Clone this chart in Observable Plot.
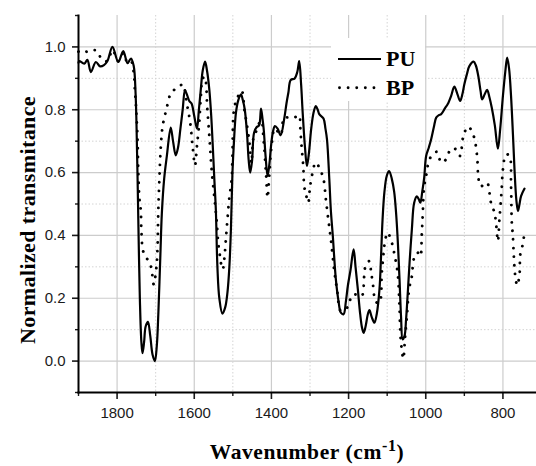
<!DOCTYPE html>
<html>
<head>
<meta charset="utf-8">
<script src="https://cdn.jsdelivr.net/npm/d3@7"></script>
<script src="https://cdn.jsdelivr.net/npm/@observablehq/plot@0.6"></script>
<style>
  html, body { margin: 0; padding: 0; background: #fff; }
  #chart { width: 536px; height: 466px; }
</style>
</head>
<body>
<div id="chart"></div>
<script>
// ---- data ----
const seriesNames = ["PU", "BP"];
const xTitle = "Wavenumber (cm";
const xTitleSup = "-1";
const yTitle = "Normalized transmitance";
const xMajorTicks = [1800, 1600, 1400, 1200, 1000, 800];
const xMinorTicks = [1900, 1700, 1500, 1300, 1100, 900];
const yMajorTicks = [0, 0.2, 0.4, 0.6, 0.8, 1.0];
const yMinorTicks = [-0.1, 0.1, 0.3, 0.5, 0.7, 0.9, 1.1];

const puWave = [1900,1898,1885,1877,1868,1855,1844,1834,1825,1812,1797,1784,1773,1764,1757,1752,1748,1745,1741,1737,1734,1730,1726,1720,1714,1708,1702,1697,1693,1688,1684,1678,1671,1661,1655,1648,1642,1636,1630,1624,1618,1613,1607,1600,1593,1588,1583,1578,1572,1567,1561,1556,1552,1548,1544,1540,1535,1527,1520,1514,1509,1505,1501,1497,1492,1486,1479,1474,1469,1463,1459,1455,1450,1445,1438,1432,1427,1423,1420,1415,1410,1405,1401,1396,1391,1384,1376,1367,1361,1356,1350,1340,1333,1328,1323,1319,1313,1308,1303,1297,1291,1285,1280,1276,1265,1260,1256,1250,1246,1241,1233,1226,1220,1213,1207,1202,1195,1187,1182,1176,1170,1165,1161,1156,1150,1146,1140,1133,1127,1120,1116,1112,1107,1101,1095,1088,1082,1077,1072,1068,1064,1060,1055,1051,1046,1042,1036,1030,1023,1018,1014,1009,1004,999,992,986,979,973,966,960,950,943,934,926,918,911,905,900,893,887,876,870,864,858,854,847,841,835,829,821,813,807,800,794,789,784,779,774,770,765,761,757,753,744];
const puT = [0.95,0.955,0.947,0.959,0.92,0.952,0.938,0.942,0.955,1.0,0.952,0.987,0.948,0.963,0.94,0.85,0.65,0.45,0.2,0.06,0.025,0.06,0.11,0.125,0.08,0.02,0.0,0.05,0.154,0.33,0.47,0.58,0.653,0.743,0.70,0.655,0.68,0.738,0.80,0.862,0.845,0.828,0.82,0.78,0.74,0.80,0.865,0.925,0.953,0.925,0.865,0.78,0.685,0.58,0.48,0.3,0.2,0.151,0.17,0.218,0.3,0.419,0.6,0.7,0.79,0.83,0.849,0.83,0.80,0.72,0.64,0.6,0.64,0.727,0.745,0.75,0.804,0.77,0.738,0.65,0.589,0.63,0.685,0.73,0.748,0.74,0.719,0.77,0.82,0.855,0.895,0.899,0.92,0.955,0.88,0.791,0.68,0.621,0.66,0.738,0.79,0.812,0.80,0.786,0.772,0.74,0.706,0.58,0.48,0.40,0.26,0.19,0.154,0.149,0.19,0.239,0.29,0.356,0.30,0.228,0.15,0.105,0.09,0.11,0.15,0.162,0.14,0.122,0.15,0.228,0.33,0.45,0.54,0.59,0.605,0.58,0.54,0.473,0.37,0.26,0.14,0.069,0.08,0.133,0.23,0.313,0.42,0.504,0.524,0.515,0.504,0.54,0.585,0.653,0.68,0.706,0.745,0.775,0.783,0.786,0.805,0.818,0.845,0.874,0.85,0.828,0.85,0.881,0.915,0.939,0.953,0.94,0.908,0.86,0.833,0.85,0.863,0.84,0.807,0.75,0.676,0.74,0.844,0.92,0.966,0.93,0.844,0.72,0.61,0.51,0.478,0.50,0.525,0.549];

const bpWave = [1900,1890,1880,1870,1860,1850,1840,1825,1812,1797,1784,1773,1764,1757,1754,1750.5,1747,1745,1742,1738.5,1737,1732.5,1723,1714,1709,1705,1698,1695,1693.5,1691,1686.5,1682,1676,1669,1661,1650,1640,1630,1619,1610.5,1604,1598,1593,1587,1583,1578,1573,1566,1560,1555,1546.5,1541.5,1538,1534.5,1531,1526,1522,1518,1514,1509.5,1503,1501,1496.5,1486,1477,1470,1466,1457.5,1452,1445,1436,1427,1420,1414,1410,1405,1400,1391,1376,1367,1355,1341,1328,1325.5,1322,1317.5,1315,1310.5,1304.5,1301,1297.5,1285,1274,1265,1259,1253,1246,1237.5,1230,1220,1210,1200,1192,1180,1166,1159.5,1155,1146,1142,1137.5,1129,1120,1114,1109,1105.5,1099,1088,1082,1073,1068.5,1065,1058,1054,1049,1042.5,1036.5,1030,1021,1014,1010.5,1008,1004,999,995,988,982,971,960,947.5,934.5,921.5,911,902.5,890,876,867,864,858.5,850,841,831,822,818,813,809,805,803,800,792,783,779,777,774.5,772,768.5,763,757,755,748.5,744.5];
const bpT = [0.985,0.99,0.985,0.985,0.99,0.985,0.96,0.955,0.99,0.955,0.98,0.95,0.955,0.92,0.865,0.80,0.706,0.6,0.515,0.478,0.414,0.35,0.327,0.308,0.276,0.244,0.30,0.366,0.462,0.557,0.685,0.748,0.782,0.818,0.852,0.865,0.872,0.881,0.818,0.759,0.68,0.623,0.685,0.759,0.84,0.9,0.905,0.80,0.70,0.61,0.504,0.44,0.377,0.345,0.313,0.292,0.326,0.388,0.451,0.515,0.579,0.653,0.804,0.844,0.860,0.80,0.77,0.70,0.63,0.72,0.738,0.78,0.70,0.595,0.52,0.6,0.68,0.74,0.72,0.775,0.775,0.775,0.782,0.748,0.685,0.621,0.557,0.531,0.504,0.541,0.573,0.632,0.61,0.579,0.515,0.455,0.388,0.292,0.228,0.159,0.165,0.175,0.209,0.212,0.207,0.271,0.308,0.318,0.287,0.25,0.188,0.186,0.281,0.347,0.382,0.409,0.377,0.345,0.281,0.186,0.07,0.008,0.069,0.143,0.234,0.266,0.329,0.345,0.334,0.398,0.462,0.557,0.589,0.621,0.648,0.658,0.666,0.632,0.642,0.676,0.674,0.653,0.717,0.746,0.717,0.653,0.589,0.557,0.56,0.568,0.504,0.473,0.44,0.382,0.451,0.515,0.552,0.61,0.658,0.653,0.557,0.44,0.403,0.34,0.276,0.241,0.276,0.34,0.372,0.407];

const pu = puWave.map((w, i) => ({w, t: puT[i]}));
const bp = bpWave.map((w, i) => ({w, t: bpT[i]}));

const W = 536, H = 466;
const mL = 78, mR = 0, mT = 15, mB = 74;
const dotDash = "0.01 8.6";

const chart = Plot.plot({
  width: W, height: H,
  marginLeft: mL, marginRight: mR, marginTop: mT, marginBottom: mB,
  style: {fontFamily: "'Liberation Sans', Arial, sans-serif", fontSize: "15px", color: "#1a1a1a", background: "#fff"},
  x: {domain: [1900, 713]},
  y: {domain: [-0.1, 1.1]},
  marks: [
    Plot.ruleY(yMinorTicks.filter(d => d > -0.1 && d < 1.1), {stroke: "#d4d4d4", strokeDasharray: "1.5,2", strokeOpacity: 1}),
    Plot.ruleY(yMajorTicks, {stroke: "#cccccc", strokeOpacity: 1, strokeWidth: 1.2}),
    Plot.ruleX(xMinorTicks.filter(d => d < 1900), {stroke: "#d4d4d4", strokeDasharray: "1.5,2", strokeOpacity: 1}),
    Plot.ruleX(xMajorTicks, {stroke: "#cccccc", strokeOpacity: 1, strokeWidth: 1.2}),
    Plot.line(bp, {x: "w", y: "t", curve: "catmull-rom", stroke: "#000", strokeWidth: 2.9, strokeDasharray: dotDash, strokeLinecap: "round"}),
    Plot.line(pu, {x: "w", y: "t", curve: "catmull-rom", stroke: "#000", strokeWidth: 2.2}),
    Plot.axisY(yMajorTicks, {tickSize: 6, tickPadding: 7, tickFormat: d3.format(".1f"), fontSize: 15, label: null, strokeWidth: 1.6}),
    Plot.axisY(yMinorTicks, {tickSize: 3, tickFormat: () => "", label: null, strokeWidth: 1.4}),
    Plot.axisX(xMajorTicks, {tickSize: 7, tickPadding: 8, tickFormat: d => String(d), fontSize: 15, label: null, strokeWidth: 1.6}),
    Plot.axisX(xMinorTicks, {tickSize: 4, tickFormat: () => "", label: null, strokeWidth: 1.4}),
    Plot.frame({anchor: "left", stroke: "#000", strokeWidth: 2}),
    Plot.frame({anchor: "bottom", stroke: "#000", strokeWidth: 2})
  ]
});

document.getElementById("chart").appendChild(chart);

const svg = d3.select(chart);
const serif = "'Liberation Serif', 'Times New Roman', serif";

// legend
const lg = svg.append("g").attr("class", "legend");
lg.append("rect").attr("x", 331).attr("y", 38).attr("width", 94).attr("height", 63).attr("fill", "#fff");
lg.append("line").attr("x1", 338).attr("x2", 381).attr("y1", 59).attr("y2", 59)
  .attr("stroke", "#000").attr("stroke-width", 2.2);
lg.append("line").attr("x1", 339.5).attr("x2", 381).attr("y1", 87.7).attr("y2", 87.7)
  .attr("stroke", "#000").attr("stroke-width", 2.9).attr("stroke-dasharray", dotDash).attr("stroke-linecap", "round");
lg.append("text").attr("x", 386).attr("y", 65.5).text(seriesNames[0]).attr("text-anchor", "start")
  .attr("font-family", serif).attr("font-weight", "bold").attr("font-size", 22).attr("fill", "#000");
lg.append("text").attr("x", 386).attr("y", 94.5).text(seriesNames[1]).attr("text-anchor", "start")
  .attr("font-family", serif).attr("font-weight", "bold").attr("font-size", 22).attr("fill", "#000");

// x title with superscript
const xt = svg.append("text").attr("x", (mL + W - mR) / 2).attr("y", 459)
  .attr("text-anchor", "middle").attr("font-family", serif).attr("font-weight", "bold")
  .attr("font-size", 21.5).attr("fill", "#000").attr("letter-spacing", "0.6px");
xt.append("tspan").text(xTitle);
xt.append("tspan").text(xTitleSup).attr("font-size", 16).attr("dy", -8);
xt.append("tspan").text(")").attr("dy", 8);

// y title
svg.append("text").attr("transform", "translate(35,220) rotate(-90)")
  .attr("text-anchor", "middle").attr("font-family", serif).attr("font-weight", "bold")
  .attr("font-size", 22).attr("fill", "#000").attr("letter-spacing", "0.4px").text(yTitle);
</script>
</body>
</html>
